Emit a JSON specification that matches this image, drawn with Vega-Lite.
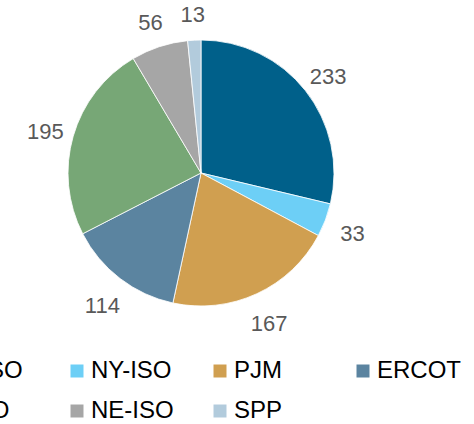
{
  "$schema": "https://vega.github.io/schema/vega-lite/v6.json",
  "width": 402,
  "height": 346,
  "autosize": {"type": "none"},
  "padding": {"left": 0, "top": 0, "right": 72, "bottom": 78},
  "background": "white",
  "config": {"view": {"stroke": null}},
  "data": {
    "values": [
      {"iso": "CAISO", "value": 233},
      {"iso": "NY-ISO", "value": 33},
      {"iso": "PJM", "value": 167},
      {"iso": "ERCOT", "value": 114},
      {"iso": "MISO", "value": 195},
      {"iso": "NE-ISO", "value": 56},
      {"iso": "SPP", "value": 13}
    ]
  },
  "transform": [
    {"window": [{"op": "row_number", "as": "idx"}]}
  ],
  "encoding": {
    "theta": {"field": "value", "type": "quantitative", "stack": true},
    "order": {"field": "idx", "type": "quantitative", "sort": "ascending"}
  },
  "layer": [
    {
      "mark": {"type": "arc", "outerRadius": 133, "stroke": "white", "strokeWidth": 0.8},
      "encoding": {
        "color": {
          "field": "iso",
          "type": "nominal",
          "sort": ["CAISO", "NY-ISO", "PJM", "ERCOT", "MISO", "NE-ISO", "SPP"],
          "scale": {
            "domain": ["CAISO", "NY-ISO", "PJM", "ERCOT", "MISO", "NE-ISO", "SPP"],
            "range": ["#00608a", "#6dcff6", "#d09f50", "#5b84a0", "#77a776", "#a6a6a6", "#b2cbdc"]
          },
          "legend": {
            "title": null,
            "orient": "none",
            "direction": "horizontal",
            "legendX": -78,
            "legendY": 359,
            "columns": 4,
            "gridAlign": "all",
            "columnPadding": 33,
            "rowPadding": 16,
            "symbolType": "square",
            "symbolSize": 169,
            "symbolStrokeWidth": 0,
            "labelFont": "Liberation Sans",
            "labelFontSize": 24,
            "labelColor": "#000000",
            "labelOffset": 2,
            "labelLimit": 200,
            "padding": 0
          }
        }
      }
    },
    {
      "mark": {"type": "text", "radius": 162, "dy": 4, "font": "Liberation Sans", "fontSize": 22, "color": "#595959"},
      "encoding": {
        "text": {"field": "value", "type": "quantitative"}
      }
    }
  ]
}
